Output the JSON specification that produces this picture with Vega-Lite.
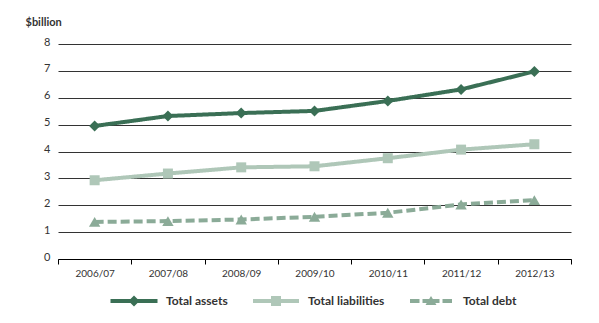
{
  "$schema": "https://vega.github.io/schema/vega-lite/v6.json",
  "width": 513,
  "height": 215,
  "autosize": "none",
  "padding": {"left": 58, "top": 44, "right": 28, "bottom": 64},
  "background": "white",
  "config": {"view": {"stroke": null}, "font": "Lato"},
  "data": {
    "values": [
      {"year": "2006/07", "series": "Total assets", "value": 4.95},
      {"year": "2007/08", "series": "Total assets", "value": 5.32},
      {"year": "2008/09", "series": "Total assets", "value": 5.43},
      {"year": "2009/10", "series": "Total assets", "value": 5.51},
      {"year": "2010/11", "series": "Total assets", "value": 5.88},
      {"year": "2011/12", "series": "Total assets", "value": 6.31},
      {"year": "2012/13", "series": "Total assets", "value": 6.98},
      {"year": "2006/07", "series": "Total liabilities", "value": 2.93},
      {"year": "2007/08", "series": "Total liabilities", "value": 3.18},
      {"year": "2008/09", "series": "Total liabilities", "value": 3.41},
      {"year": "2009/10", "series": "Total liabilities", "value": 3.45},
      {"year": "2010/11", "series": "Total liabilities", "value": 3.75},
      {"year": "2011/12", "series": "Total liabilities", "value": 4.07},
      {"year": "2012/13", "series": "Total liabilities", "value": 4.27},
      {"year": "2006/07", "series": "Total debt", "value": 1.38},
      {"year": "2007/08", "series": "Total debt", "value": 1.41},
      {"year": "2008/09", "series": "Total debt", "value": 1.47},
      {"year": "2009/10", "series": "Total debt", "value": 1.57},
      {"year": "2010/11", "series": "Total debt", "value": 1.72},
      {"year": "2011/12", "series": "Total debt", "value": 2.03},
      {"year": "2012/13", "series": "Total debt", "value": 2.19}
    ]
  },
  "encoding": {
    "x": {
      "field": "year", "type": "ordinal",
      "scale": {"type": "band", "paddingInner": 0, "paddingOuter": 0},
      "axis": {
        "title": null, "labelAngle": 0, "domainColor": "#000", "domainWidth": 1,
        "tickColor": "#000", "tickSize": 5, "tickBand": "extent",
        "labelPadding": 4, "labelFontSize": 10, "labelColor": "#333", "grid": false
      }
    },
    "y": {
      "field": "value", "type": "quantitative",
      "scale": {"domain": [0, 8]},
      "axis": {
        "title": "$billion", "titleAngle": 0, "titleAlign": "left", "titleBaseline": "middle",
        "titleX": -33, "titleY": -22, "titleFontWeight": "bold", "titleFontSize": 11, "titleColor": "#333",
        "domain": false, "ticks": false, "labelPadding": 8, "labelFontSize": 11, "labelColor": "#333",
        "labelOffset": -2,
        "grid": true, "gridColor": "#333", "gridWidth": 1, "values": [0, 1, 2, 3, 4, 5, 6, 7, 8]
      }
    },
    "color": {
      "field": "series", "type": "nominal",
      "scale": {"domain": ["Total assets", "Total liabilities", "Total debt"], "range": ["#3a6f55", "#afc7b8", "#8bab98"]},
      "legend": {
        "title": null, "orient": "none", "direction": "horizontal", "legendX": 70, "legendY": 251,
        "labelFontSize": 12, "labelFontWeight": "bold", "labelColor": "#333", "labelOffset": 26,
        "columnPadding": 25, "symbolSize": 100, "symbolStrokeWidth": 0,
        "encode": {
          "symbols": {
            "update": {
              "shape": {"signal": "datum.value === 'Total assets' ? 'M-4.7,-0.4H-0.7L0,-1.1L0.7,-0.4H4.7V0.4H0.7L0,1.1L-0.7,0.4H-4.7Z' : datum.value === 'Total liabilities' ? 'M-4.6,-0.4H-1V-1H1V-0.4H4.6V0.4H1V1H-1V0.4H-4.6Z' : 'M-4.2,-0.4H-2.3V0.4H-4.2Z M2.3,-0.4H4.2V0.4H2.3Z M-1.7,-0.4H1.7V0.4H-1.7Z M-1.1,0.8L0,-1L1.1,0.8Z'"},
              "fill": {"signal": "scale('color', datum.value)"},
              "fillOpacity": {"value": 1},
              "strokeWidth": {"value": 0}
            }
          }
        }
      }
    }
  },
  "layer": [
    {
      "mark": {"type": "line", "strokeWidth": 4},
      "encoding": {
        "strokeDash": {
          "field": "series", "type": "nominal",
          "scale": {"domain": ["Total assets", "Total liabilities", "Total debt"], "range": [[1, 0], [1, 0], [9, 4]]},
          "legend": null
        }
      }
    },
    {
      "transform": [{"filter": "datum.series === 'Total assets'"}],
      "mark": {"type": "point", "filled": true, "opacity": 1, "shape": "diamond", "size": 121}
    },
    {
      "transform": [{"filter": "datum.series === 'Total liabilities'"}],
      "mark": {"type": "point", "filled": true, "opacity": 1, "shape": "square", "size": 100}
    },
    {
      "transform": [{"filter": "datum.series === 'Total debt'"}],
      "mark": {"type": "point", "filled": true, "opacity": 1, "shape": "triangle-up", "size": 130}
    }
  ]
}
